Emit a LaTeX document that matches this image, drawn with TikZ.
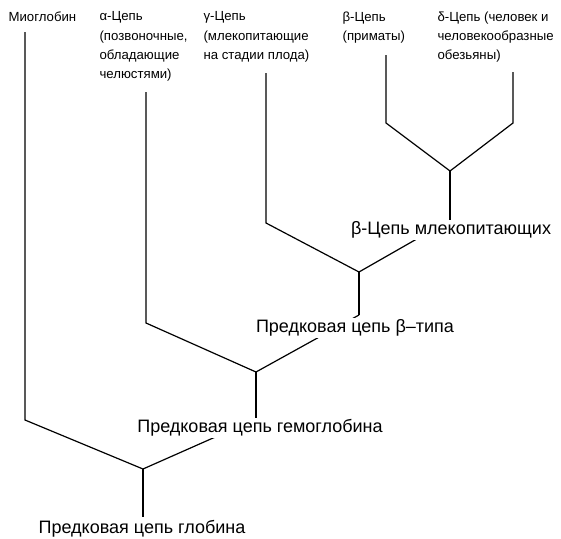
\documentclass[tikz,border=0pt]{standalone}
\usepackage{fontspec}
\setmainfont{Liberation Sans}
\begin{document}
\begin{tikzpicture}[x=1pt, y=-1pt, line width=1.2pt,
  leaf/.style={anchor=north west, align=left, inner sep=0pt,
    font=\fontsize{13.2}{19.4}\selectfont},
  anc/.style={fill=white, inner sep=1.5pt, font=\fontsize{18}{20}\selectfont}]
  \useasboundingbox (0,0) rectangle (561,538);
  % tips of the tree
  \coordinate (myoT) at (25,32);   \coordinate (myoB) at (25,420);
  \coordinate (alT) at (146,92);   \coordinate (alB) at (146,323);
  \coordinate (gaT) at (266,73);   \coordinate (gaB) at (266,223);
  \coordinate (beT) at (386,55);   \coordinate (beB) at (386,123);
  \coordinate (deT) at (513,72);   \coordinate (deB) at (513,123);
  % branch points
  \coordinate (jbd) at (450,171);  \coordinate (jbdB) at (450,220);
  \coordinate (jbt) at (359,272);  \coordinate (jbtB) at (359,315);
  \coordinate (jhb) at (256,372);  \coordinate (jhbB) at (256,419);
  \coordinate (jgl) at (143,469);  \coordinate (jglB) at (143,517);
  \draw (beT) -- (beB) -- (jbd) -- (deB) -- (deT);
  \draw (jbd) -- (jbdB);
  \draw (gaT) -- (gaB) -- (jbt) -- (jbdB);
  \draw (jbt) -- (jbtB);
  \draw (alT) -- (alB) -- (jhb) -- (jbtB);
  \draw (jhb) -- (jhbB);
  \draw (myoT) -- (myoB) -- (jgl) -- (jhbB);
  \draw (jgl) -- (jglB);
  % labels
  \node[leaf] (myo) at (8,11) {Миоглобин};
  \node[leaf] (alpha) at (99,11) {α-Цепь\\(позвоночные,\\обладающие\\челюстями)};
  \node[leaf] (gamma) at (203,11) {γ-Цепь\\(млекопитающие\\на стадии плода)};
  \node[leaf] (beta) at (342,11) {β-Цепь\\(приматы)};
  \node[leaf] (delta) at (437,11) {δ-Цепь (человек и\\человекообразные\\обезьяны)};
  \node[anc] (mam) at (451,230) {β-Цепь млекопитающих};
  \node[anc] (btype) at (355,328) {Предковая цепь β–типа};
  \node[anc] (hb) at (260,428) {Предковая цепь гемоглобина};
  \node[anc] (glob) at (142,529) {Предковая цепь глобина};
\end{tikzpicture}
\end{document}
